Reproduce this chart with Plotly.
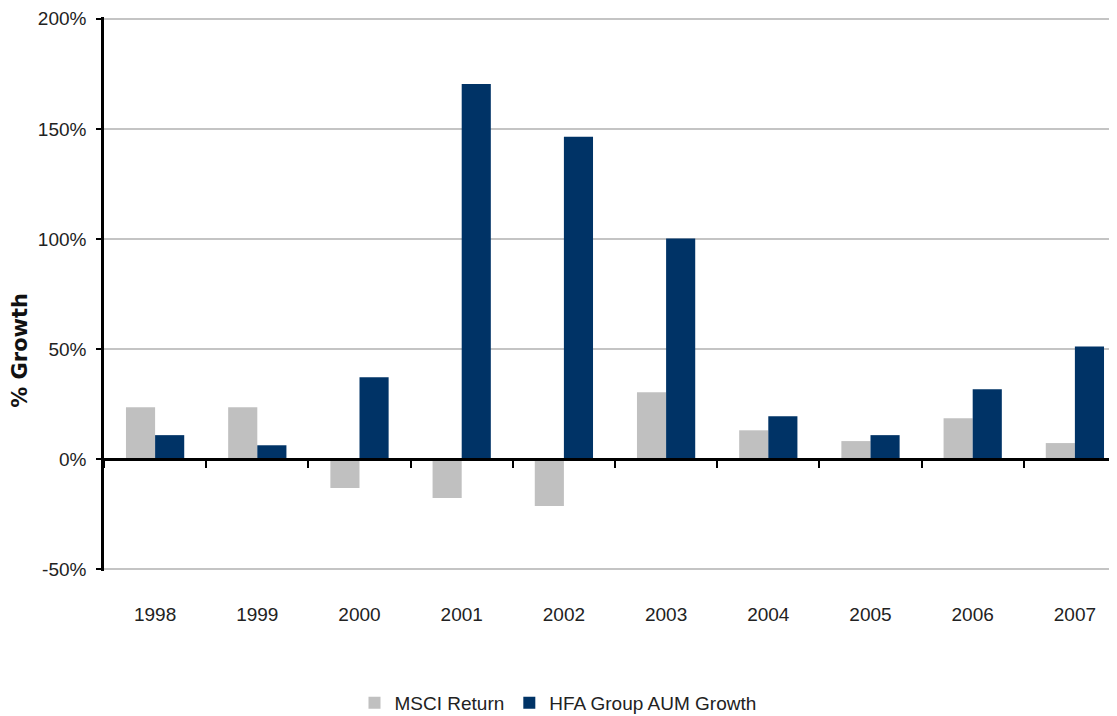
import plotly.graph_objects as go

years = ["1998", "1999", "2000", "2001", "2002", "2003", "2004", "2005", "2006", "2007"]
msci_return = [23.6, 23.6, -13.1, -17.7, -21.3, 30.4, 13.1, 8.2, 18.6, 7.3]
hfa_aum_growth = [10.9, 6.3, 37.2, 170.4, 146.4, 100.2, 19.5, 10.9, 31.7, 51.2]
y_ticks = [-50, 0, 50, 100, 150, 200]
y_tick_text = [f"{v}%" for v in y_ticks]

FONT = "Liberation Sans, Arial, sans-serif"
FS = 19

# figure sized to the window minus the page's default 8px body margin
W, H = 1109, 708
PAD = 0.8                      # small range padding so the edge gridlines are kept
Y0, Y1 = min(y_ticks) - PAD, max(y_ticks) + PAD
PX_PER_UNIT = 552 / 250.0
PH = round((Y1 - Y0) * PX_PER_UNIT)
T = 9 - round(PAD * PX_PER_UNIT)
L, R = 96, 0
B = H - T - PH
PW = W - L - R
zero_pos = (0 - Y0) / (Y1 - Y0)

fig = go.Figure()
fig.add_trace(go.Bar(x=years, y=msci_return, name="MSCI Return",
                     marker=dict(color="#C0C0C0", line=dict(width=0))))
fig.add_trace(go.Bar(x=years, y=hfa_aum_growth, name="HFA Group AUM Growth",
                     marker=dict(color="#003366", line=dict(width=0))))
# helper trace for the zero-line axis carrying the category boundary ticks
fig.add_trace(go.Scatter(x=years, y=[0] * len(years), mode="none", xaxis="x2",
                         showlegend=False, hoverinfo="skip"))

xr = [-0.5, 9.412]
fig.update_layout(
    width=W, height=H,
    margin=dict(l=L, r=R, t=T, b=B),
    paper_bgcolor="white", plot_bgcolor="white",
    barmode="group", bargap=0.43, bargroupgap=0,
    font=dict(family=FONT, size=FS, color="#222222"),
    xaxis=dict(type="category", categoryarray=years, range=xr,
               showline=False, ticks="", showgrid=False,
               tickfont=dict(family=FONT, size=FS, color="#222222"),
               ticklabelstandoff=30),
    xaxis2=dict(type="category", categoryarray=years, range=xr,
                overlaying="x", anchor="free", position=zero_pos,
                showline=True, linecolor="black", linewidth=2.5,
                ticks="outside", tickson="boundaries", ticklen=7,
                tickcolor="black", tickwidth=1.5,
                showticklabels=False, showgrid=False),
    yaxis=dict(range=[Y0, Y1], tickvals=y_ticks, ticktext=y_tick_text,
               showgrid=True, gridcolor="#C4C4C4", gridwidth=1.5,
               zeroline=False, showline=True, linecolor="black", linewidth=2.5,
               ticks="outside", ticklen=5, tickcolor="black", tickwidth=1.5,
               tickfont=dict(family=FONT, size=FS, color="#222222"),
               ticklabelstandoff=6, ticklabeloverflow="allow"),
    legend=dict(orientation="h", xref="container", yref="container",
                x=550 / W, xanchor="center",
                y=(H - 695) / H, yanchor="middle",
                font=dict(family=FONT, size=FS, color="#222222"),
                itemwidth=30, traceorder="normal"),
    showlegend=True,
    annotations=[dict(text="<b>% Growth</b>", textangle=-90,
                      xref="paper", yref="paper",
                      x=(12 - L) / PW, y=(T + PH - 342) / PH,
                      xanchor="center", yanchor="middle", showarrow=False,
                      font=dict(family="DejaVu Sans", size=21, color="#111111"))],
)

fig.write_html("out.html")
